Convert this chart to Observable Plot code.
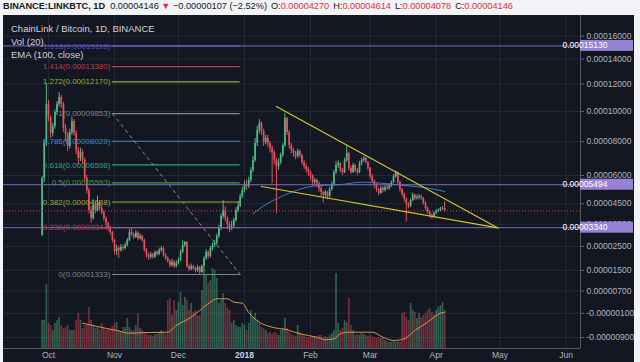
<!DOCTYPE html>
<html><head><meta charset="utf-8">
<script src="https://cdn.jsdelivr.net/npm/d3@7"></script>
<script src="https://cdn.jsdelivr.net/npm/@observablehq/plot@0.6"></script>
<style>
html,body{margin:0;padding:0;background:#f1f3f6;width:640px;height:362px;overflow:hidden;font-family:"Liberation Sans",Arial,sans-serif;}
#header{position:absolute;left:3px;top:0;height:14px;line-height:13px;font-size:9.2px;color:#131722;white-space:nowrap;}
#header .r{color:#e0323c;}
#header .g{margin-left:4px;}
#panel{position:absolute;left:3px;top:15px;width:631px;height:347px;background:#131722;overflow:hidden;}
#panel svg{position:absolute;left:0;top:0;}
.legend{position:absolute;left:8px;font-size:9.5px;line-height:11px;color:#d1d4dc;white-space:nowrap;}
</style></head>
<body>
<div id="header"></div>
<div id="panel"></div>
<script>
// ---------- data (prices in units of 1e-6 BTC) ----------
const symbol = "BINANCE:LINKBTC", interval = "1D";
const chartTitle = "ChainLink / Bitcoin, 1D, BINANCE";
const legendVol = "Vol (20)";
const legendEma = "EMA (100, close)";
const startDate = "2017-09-28";
const UNIT = 1e-6;
const opens = [29.9,58.3,78.9,105.0,95.9,85.3,89.8,99.3,105.0,110.0,
105.0,88.5,84.6,77.1,85.9,93.1,85.3,74.6,69.8,73.4,
68.6,58.3,51.8,41.6,37.8,44.2,41.6,45.2,42.6,40.6,
37.8,35.4,33.0,31.2,27.6,22.8,24.1,23.2,24.5,24.1,
25.4,27.6,31.2,30.3,29.0,30.8,28.5,29.4,27.6,23.2,
21.1,20.3,21.5,20.3,22.4,21.5,23.2,24.1,21.1,19.8,
18.6,16.9,18.2,16.5,17.8,19.0,22.4,25.4,26.7,16.5,
15.3,16.5,15.7,14.9,16.1,14.1,16.5,19.8,22.4,20.7,
24.1,25.4,26.3,29.4,33.0,38.7,41.6,37.8,34.9,33.0,
34.0,36.8,41.6,43.7,48.7,51.8,55.0,54.0,57.2,62.8,
68.6,78.9,87.2,91.8,86.6,79.6,82.1,78.9,75.8,73.4,
68.6,65.1,67.4,71.6,77.7,95.2,85.9,77.7,74.6,72.8,
71.0,74.0,71.6,67.4,65.1,63.4,61.7,59.4,56.1,57.2,
55.6,52.9,50.8,49.3,50.8,48.7,52.3,55.0,61.7,65.7,
66.8,62.8,61.7,68.6,72.8,63.9,61.7,65.7,62.8,61.7,
66.8,68.6,69.8,67.4,63.9,59.4,56.7,54.5,52.3,50.3,
52.9,51.8,53.4,52.9,54.5,56.1,59.4,61.7,56.1,52.3,
49.8,47.2,44.7,43.7,46.7,49.3,47.7,48.2,48.7,47.7,
45.2,42.6,40.6,39.2,38.7,40.2,41.1,41.6,42.3,42.70];
const closes = [58.3,78.9,105.0,95.9,85.3,89.8,99.3,105.0,110.0,105.0,
88.5,84.6,77.1,85.9,93.1,85.3,74.6,69.8,73.4,68.6,
58.3,51.8,41.6,37.8,44.2,41.6,45.2,42.6,40.6,37.8,
35.4,33.0,31.2,27.6,22.8,24.1,23.2,24.5,24.1,25.4,
27.6,31.2,30.3,29.0,30.8,28.5,29.4,27.6,23.2,21.1,
20.3,21.5,20.3,22.4,21.5,23.2,24.1,21.1,19.8,18.6,
16.9,18.2,16.5,17.8,19.0,22.4,25.4,26.7,16.5,15.3,
16.5,15.7,14.9,16.1,14.1,16.5,19.8,22.4,20.7,24.1,
25.4,26.3,29.4,33.0,38.7,41.6,37.8,34.9,33.0,34.0,
36.8,41.6,43.7,48.7,51.8,55.0,54.0,57.2,62.8,68.6,
78.9,87.2,91.8,86.6,79.6,82.1,78.9,75.8,73.4,68.6,
65.1,67.4,71.6,77.7,95.2,85.9,77.7,74.6,72.8,71.0,
74.0,71.6,67.4,65.1,63.4,61.7,59.4,56.1,57.2,55.6,
52.9,50.8,49.3,50.8,48.7,52.3,55.0,61.7,65.7,66.8,
62.8,61.7,68.6,72.8,63.9,61.7,65.7,62.8,61.7,66.8,
68.6,69.8,67.4,63.9,59.4,56.7,54.5,52.3,50.3,52.9,
51.8,53.4,52.9,54.5,56.1,59.4,61.7,56.1,52.3,49.8,
47.2,44.7,43.7,46.7,49.3,47.7,48.2,48.7,47.7,45.2,
42.6,40.6,39.2,38.7,40.2,41.1,41.6,42.3,42.53,41.46];
const highs = [59.4,81.0,120.5,108.0,97.0,92.0,101.0,107.0,113.5,111.5,
106.5,91.0,86.0,88.0,96.0,94.5,87.0,76.5,76.0,75.0,
70.0,60.0,53.0,43.5,47.0,46.0,49.0,46.5,44.0,41.5,
38.5,36.0,34.0,31.8,28.0,25.5,25.0,25.8,25.5,26.5,
28.5,32.5,33.0,31.0,32.0,31.5,30.5,30.0,28.2,24.0,
22.0,22.5,22.0,23.0,23.2,24.2,25.0,24.5,21.8,20.5,
19.2,19.5,19.0,18.8,20.0,23.5,27.5,27.2,27.0,17.2,
17.5,17.0,16.2,17.0,16.5,17.2,20.5,23.5,23.0,25.0,
26.5,27.5,30.5,34.5,40.0,46.5,43.5,38.5,36.0,36.5,
38.0,43.0,46.0,50.0,53.5,57.0,57.5,59.0,64.5,71.0,
82.0,90.0,94.5,93.0,88.0,84.0,84.0,80.0,77.5,74.5,
70.0,69.5,73.0,79.0,98.6,96.0,87.0,79.0,76.0,74.0,
75.5,75.0,72.5,68.5,66.5,64.5,62.5,60.5,58.5,58.0,
56.5,54.0,51.5,52.0,51.5,53.5,56.5,63.0,68.0,68.5,
67.5,64.0,70.0,77.5,73.5,65.5,67.0,66.5,64.0,68.0,
70.0,71.0,70.5,68.0,64.5,60.5,57.5,55.5,53.0,54.0,
54.0,54.5,54.5,55.5,57.0,60.5,62.5,62.0,57.0,53.0,
50.5,48.0,45.5,47.5,50.5,50.0,49.5,49.8,49.5,48.2,
46.0,43.5,41.5,40.0,41.0,42.0,42.5,43.2,43.5,46.14];
const lows = [29.4,56.0,77.0,93.0,82.0,83.0,88.0,97.0,103.0,102.0,
86.0,80.0,74.0,75.5,84.0,83.5,72.0,66.0,68.0,66.5,
56.5,50.0,40.0,35.5,37.0,40.0,41.0,41.5,39.5,36.5,
34.0,32.0,30.0,26.5,21.5,21.0,19.8,22.5,23.0,23.5,
24.8,27.0,29.5,28.0,28.5,27.5,27.8,26.8,22.5,20.0,
19.0,19.5,19.6,19.8,20.8,21.0,22.5,20.5,19.0,17.8,
16.0,16.3,15.8,16.0,17.2,18.5,21.8,24.5,15.8,14.5,
14.8,15.0,14.0,14.2,13.33,13.8,14.5,19.0,19.5,20.0,
23.0,24.5,25.5,28.5,32.0,37.5,36.0,32.5,31.0,32.0,
33.5,36.0,40.5,43.0,47.5,50.5,52.0,53.0,56.0,61.5,
67.5,77.0,85.0,84.0,77.0,78.0,76.5,73.0,55.5,66.0,
40.0,63.0,66.0,70.5,76.5,84.0,75.5,72.5,70.5,69.0,
70.0,70.0,66.0,63.5,61.5,59.5,57.5,54.0,54.5,53.5,
51.0,48.5,45.5,48.0,47.0,48.0,51.5,54.0,60.5,64.0,
61.5,60.0,61.0,67.5,62.5,60.5,61.0,61.5,60.0,61.0,
65.5,67.5,66.5,62.5,58.0,55.5,53.0,51.0,49.0,49.8,
50.5,51.0,52.0,52.0,53.5,55.5,58.5,55.0,51.0,48.5,
46.0,36.0,42.5,43.0,46.0,46.5,46.8,47.0,46.8,44.2,
41.5,39.8,38.0,37.2,38.0,39.5,40.5,41.0,41.8,40.78];
const volumes = [280,280,640,250,230,180,250,280,310,230,
200,210,230,180,180,180,280,350,280,200,
230,230,410,280,230,200,210,180,250,200,
180,200,180,220,250,260,180,160,210,210,
300,210,180,180,230,350,200,180,160,150,
130,130,120,140,140,160,180,150,140,480,
500,330,480,380,460,560,430,510,480,380,
450,360,380,320,330,580,780,730,650,680,
800,780,700,450,480,550,450,400,380,250,
280,230,210,210,250,230,180,250,380,310,
350,280,250,210,200,180,150,160,140,160,
150,130,180,200,300,200,160,140,130,120,
230,160,130,120,110,110,120,110,120,110,
130,130,110,120,110,130,150,180,750,250,
180,200,280,260,500,230,180,130,140,130,
150,140,130,120,130,110,110,100,110,100,
100,80,70,60,60,70,60,70,60,350,
360,310,280,450,380,360,300,350,310,330,
350,380,400,360,330,380,410,430,460,380];
const volMaDates = ["2017-10-17","2017-10-24","2017-11-02","2017-11-08","2017-11-16","2017-11-26","2017-11-30","2017-12-07","2017-12-11","2017-12-16","2017-12-19","2017-12-24","2017-12-27","2017-12-31","2018-01-03","2018-01-08","2018-01-14","2018-01-21","2018-01-27","2018-02-04","2018-02-08","2018-02-12","2018-02-15","2018-02-19","2018-03-02","2018-03-07","2018-03-12","2018-03-17","2018-03-22","2018-03-28","2018-04-03","2018-04-05"];
const volMaValues = [253,220,180,153,160,163,230,313,380,463,497,497,463,453,360,263,213,187,147,113,87,97,147,163,163,113,80,97,180,263,353,363];
const emaDates = ["2018-01-05","2018-01-10","2018-01-17","2018-01-23","2018-01-30","2018-02-05","2018-02-15","2018-02-25","2018-03-06","2018-03-17","2018-03-28","2018-04-05"];
const emaValues = [40.0,43.9,48.0,50.9,53.5,54.5,55.0,56.3,55.8,54.5,53.2,51.3];
const fibLevels = ["1.618","1.414","1.272","1","0.786","0.618","0.5","0.382","0.236","0"];
const fibPrices = [0.00015118,0.00013380,0.00012170,0.00009853,0.00008029,0.00006598,0.00005593,0.00004588,0.00003344,0.00001333];
const fibColors = ["#3f4fc4","#c23a45","#9aab2c","#80838c","#3d8bc6","#2ea386","#3ea03e","#a6a33a","#c23a45","#80838c"];
const fibSpan = ["2017-10-31","2017-12-30"];
const fibTrend = [{date:"2017-10-31",price:0.00009853},{date:"2017-12-30",price:0.00001333}];
const upperTrend = [{date:"2018-01-16",price:0.0001035},{date:"2018-04-30",price:0.0000333}];
const lowerTrend = [{date:"2018-01-09",price:0.0000540},{date:"2018-04-30",price:0.0000333}];
const horizLevels = [0.00015130,0.00005494,0.00003340];
const yTicks = [0.00016,0.00014,0.00012,0.0001,0.00008,0.00006,0.000045,0.000035,0.000025,0.000015,0.000007,-0.000001,-0.000009];
const monthTicks = ["2017-10-01","2017-11-01","2017-12-01","2018-01-01","2018-02-01","2018-03-01","2018-04-01","2018-05-01","2018-06-01"];
const monthLabels = ["Oct","Nov","Dec","2018","Feb","Mar","Apr","May","Jun"];
// ---------- scale setup ----------
const xDomain = ["2017-09-09T20:57:00Z","2018-06-07T18:29:00Z"];
const priceDomain = [-0.00001243, 0.0001794];
const OFF = 1e-4;             // log scale offset (TradingView-style log)
const volDomain = [0, 780];

const UP = "#53b987", DOWN = "#eb4d5c";
const VUP = "rgba(83,185,135,0.45)", VDOWN = "rgba(235,77,92,0.45)";
const GRID = "#252935", TXT = "#b2b5be", PURPLE = "#7e68c4", PURPLE_BOX = "#9681d4";

const candles = closes.map((c, i) => ({
  date: d3.utcDay.offset(new Date(startDate + "T00:00:00Z"), i),
  open: opens[i] * UNIT, high: highs[i] * UNIT, low: lows[i] * UNIT, close: c * UNIT,
  volume: volumes[i]
}));
const isUp = d => d.close >= d.open;
const volMa = volMaDates.map((d, i) => ({date: new Date(d), value: volMaValues[i]}));
const ema = emaDates.map((d, i) => ({date: new Date(d), value: emaValues[i] * UNIT}));
const fib = fibLevels.map((l, i) => ({level: l, price: fibPrices[i], color: fibColors[i]}));
const tr = a => a.map(d => ({date: new Date(d.date), price: d.price}));

const W = 631, H = 347;
const base = {
  width: W, height: H, marginTop: 0, marginRight: 54, marginBottom: 14, marginLeft: 0,
  x: {type: "utc", domain: xDomain.map(d => new Date(d))},
  color: {type: "identity"},
  style: {background: "transparent", fontFamily: "Liberation Sans, Arial, sans-serif", fontSize: "8.5px", color: TXT}
};
const py = v => v + OFF;
const panel = document.getElementById("panel");

// layer 1: grid
panel.appendChild(Plot.plot({...base,
  x: {...base.x, axis: null},
  y: {type: "log", domain: priceDomain.map(py), axis: null},
  marks: [
    Plot.ruleY(yTicks.map(py), {stroke: GRID}),
    Plot.ruleX(monthTicks.map(d => new Date(d)), {stroke: GRID})
  ]}));

// layer 2: volume
panel.appendChild(Plot.plot({...base,
  x: {...base.x, axis: null},
  y: {domain: volDomain, range: [H - 14, H - 14 - 78], axis: null},
  marks: [
    Plot.ruleX(candles, {x: "date", y1: 0, y2: "volume", stroke: d => isUp(d) ? VUP : VDOWN, strokeWidth: 1.7}),
    Plot.line(volMa, {x: "date", y: "value", stroke: "#e8913f", strokeWidth: 1, curve: "monotone-x"})
  ]}));

// layer 3: price
const xTickDates = monthTicks.map(d => new Date(d));
const labelOf = new Map(xTickDates.map((d, i) => [+d, monthLabels[i]]));
const yearIdx = monthLabels.indexOf("2018");
const main = Plot.plot({...base,
  y: {type: "log", domain: priceDomain.map(py)},
  marks: [
    Plot.ruleX(candles, {x: "date", y1: d => py(d.low), y2: d => py(d.high), stroke: d => isUp(d) ? UP : DOWN, strokeWidth: 1}),
    Plot.ruleX(candles, {x: "date", y1: d => py(d.open), y2: d => py(d.close), stroke: d => isUp(d) ? UP : DOWN, strokeWidth: 1.7}),
    Plot.line(ema, {x: "date", y: d => py(d.value), stroke: "#3d7cc6", strokeWidth: 1, curve: "monotone-x"}),
    Plot.ruleY(fib, {y: d => py(d.price), x1: new Date(fibSpan[0]), x2: new Date(fibSpan[1]), stroke: "color", strokeWidth: 1.2}),
    Plot.text(fib, {x: () => new Date(fibSpan[0]), y: d => py(d.price), text: d => `${d.level}(${d.price.toFixed(8)})`, fill: "color", textAnchor: "end", dx: -2, fontSize: 8}),
    Plot.line(tr(fibTrend), {x: "date", y: d => py(d.price), stroke: "#8a8d96", strokeDasharray: "3,4", strokeWidth: 1}),
    Plot.ruleY(horizLevels, {y: py, stroke: PURPLE, strokeWidth: 1}),
    Plot.ruleY([candles[candles.length - 1].close], {y: py, stroke: "#e0474c", strokeDasharray: "1,2", strokeWidth: 1}),
    Plot.line(tr(upperTrend), {x: "date", y: d => py(d.price), stroke: "#d3c52a", strokeWidth: 1.2}),
    Plot.line(tr(lowerTrend), {x: "date", y: d => py(d.price), stroke: "#d3c52a", strokeWidth: 1.2}),
    Plot.ruleX([new Date(xDomain[1])], {stroke: "#555964"}),
    Plot.ruleY([py(priceDomain[0])], {stroke: "#555964"}),
    Plot.axisY({anchor: "right", ticks: yTicks.map(py), tickFormat: d => (d - OFF).toFixed(8), tickSize: 3, tickPadding: 3, stroke: "#666a75", fill: TXT, label: null}),
    Plot.axisX({ticks: xTickDates.filter((d, i) => i !== yearIdx), tickFormat: d => labelOf.get(+d), tickSize: 0, tickPadding: 3, fill: TXT, label: null}),
    Plot.axisX({ticks: [xTickDates[yearIdx]], tickFormat: d => labelOf.get(+d), tickSize: 0, tickPadding: 3, fill: "#d1d4dc", fontWeight: "bold", label: null})
  ]});
panel.appendChild(main);

// highlighted axis labels for the horizontal lines
const ys = main.scale("y"), xs = main.scale("x");
const xr = xs.range[1];
const svg = d3.select(main);
horizLevels.forEach(v => {
  const yy = ys.apply(py(v));
  svg.append("rect").attr("x", xr).attr("y", yy - 5.5).attr("width", 53).attr("height", 11).attr("fill", PURPLE_BOX);
  svg.append("text").attr("x", xr + 5).attr("y", yy).attr("dy", "0.35em").attr("fill", "#ffffff").attr("font-size", "8.5px").text(v.toFixed(8));
});

// legends
[[chartTitle, 8], [legendVol, 21], [legendEma, 34]].forEach(([t, top]) => {
  const d = document.createElement("div");
  d.className = "legend"; d.style.top = top + "px"; d.textContent = t;
  panel.appendChild(d);
});

// header built from the last candle
const last = candles[candles.length - 1], prev = candles[candles.length - 2];
const f8 = v => v.toFixed(8).replace("-", "\u2212");
const chg = last.close - prev.close;
document.getElementById("header").innerHTML =
  `<b>${symbol}, ${interval}</b>&nbsp; ${f8(last.close)} <span class="r">&#9660;</span> ${f8(chg)} (${(chg / prev.close * 100).toFixed(2).replace("-", "\u2212")}%)` +
  `<span class="g">O:<span class="r">${f8(last.open)}</span></span><span class="g">H:<span class="r">${f8(last.high)}</span></span><span class="g">L:<span class="r">${f8(last.low)}</span></span><span class="g">C:<span class="r">${f8(last.close)}</span></span>`;
</script>
</body></html>
